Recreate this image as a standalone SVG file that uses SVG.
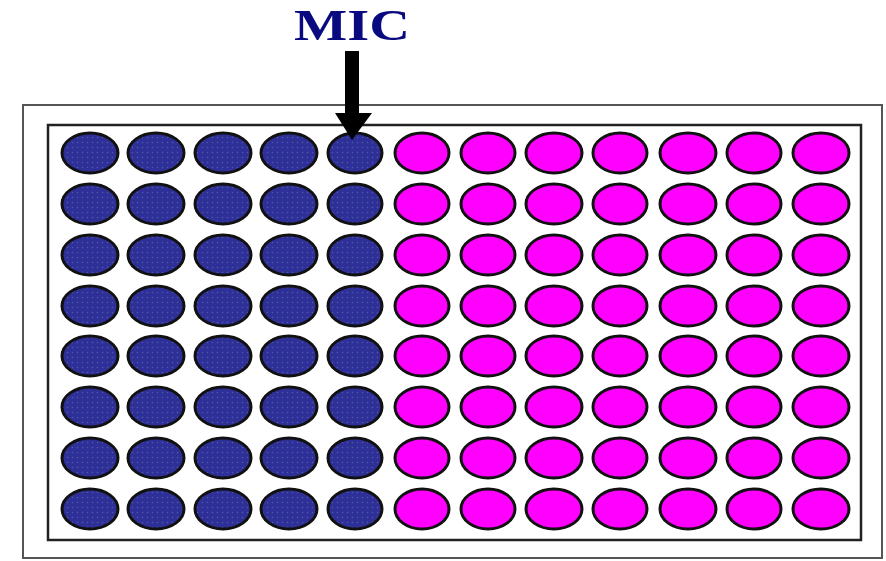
<svg xmlns="http://www.w3.org/2000/svg" width="886" height="561" viewBox="0 0 886 561">
<defs>
<style>
.b{fill:#2f2f98;stroke:#111;stroke-width:3}
.m{fill:#ff00ff;stroke:#111;stroke-width:3}
</style>
<pattern id="dots" width="5" height="5" patternUnits="userSpaceOnUse">
<rect width="5" height="5" fill="#2f2f98"/>
<circle cx="2.5" cy="2.5" r="0.8" fill="#4a5aa8"/>
</pattern>
</defs>
<rect width="886" height="561" fill="#fff"/>
<g id="plate">
<rect x="23" y="105" width="859" height="453" fill="#fff" stroke="#555" stroke-width="2"/>
<rect x="48" y="125" width="813" height="415" fill="#fff" stroke="#222" stroke-width="2.5"/>
</g>
<g id="wells">
<g id="blue" fill="url(#dots)" stroke="#111" stroke-width="3">
<ellipse cx="90" cy="153" rx="28" ry="20"/><ellipse cx="156" cy="153" rx="28" ry="20"/><ellipse cx="223" cy="153" rx="28" ry="20"/><ellipse cx="289" cy="153" rx="28" ry="20"/><ellipse cx="355" cy="153" rx="27" ry="20"/>
<ellipse cx="90" cy="204" rx="28" ry="20"/><ellipse cx="156" cy="204" rx="28" ry="20"/><ellipse cx="223" cy="204" rx="28" ry="20"/><ellipse cx="289" cy="204" rx="28" ry="20"/><ellipse cx="355" cy="204" rx="27" ry="20"/>
<ellipse cx="90" cy="255" rx="28" ry="20"/><ellipse cx="156" cy="255" rx="28" ry="20"/><ellipse cx="223" cy="255" rx="28" ry="20"/><ellipse cx="289" cy="255" rx="28" ry="20"/><ellipse cx="355" cy="255" rx="27" ry="20"/>
<ellipse cx="90" cy="306" rx="28" ry="20"/><ellipse cx="156" cy="306" rx="28" ry="20"/><ellipse cx="223" cy="306" rx="28" ry="20"/><ellipse cx="289" cy="306" rx="28" ry="20"/><ellipse cx="355" cy="306" rx="27" ry="20"/>
<ellipse cx="90" cy="356" rx="28" ry="20"/><ellipse cx="156" cy="356" rx="28" ry="20"/><ellipse cx="223" cy="356" rx="28" ry="20"/><ellipse cx="289" cy="356" rx="28" ry="20"/><ellipse cx="355" cy="356" rx="27" ry="20"/>
<ellipse cx="90" cy="407" rx="28" ry="20"/><ellipse cx="156" cy="407" rx="28" ry="20"/><ellipse cx="223" cy="407" rx="28" ry="20"/><ellipse cx="289" cy="407" rx="28" ry="20"/><ellipse cx="355" cy="407" rx="27" ry="20"/>
<ellipse cx="90" cy="458" rx="28" ry="20"/><ellipse cx="156" cy="458" rx="28" ry="20"/><ellipse cx="223" cy="458" rx="28" ry="20"/><ellipse cx="289" cy="458" rx="28" ry="20"/><ellipse cx="355" cy="458" rx="27" ry="20"/>
<ellipse cx="90" cy="509" rx="28" ry="20"/><ellipse cx="156" cy="509" rx="28" ry="20"/><ellipse cx="223" cy="509" rx="28" ry="20"/><ellipse cx="289" cy="509" rx="28" ry="20"/><ellipse cx="355" cy="509" rx="27" ry="20"/>
</g>
<g id="magenta" fill="#ff00ff" stroke="#111" stroke-width="3">
<ellipse cx="422" cy="153" rx="27" ry="20"/><ellipse cx="488" cy="153" rx="27" ry="20"/><ellipse cx="554" cy="153" rx="28" ry="20"/><ellipse cx="620" cy="153" rx="27" ry="20"/><ellipse cx="688" cy="153" rx="28" ry="20"/><ellipse cx="754" cy="153" rx="27" ry="20"/><ellipse cx="821" cy="153" rx="28" ry="20"/>
<ellipse cx="422" cy="204" rx="27" ry="20"/><ellipse cx="488" cy="204" rx="27" ry="20"/><ellipse cx="554" cy="204" rx="28" ry="20"/><ellipse cx="620" cy="204" rx="27" ry="20"/><ellipse cx="688" cy="204" rx="28" ry="20"/><ellipse cx="754" cy="204" rx="27" ry="20"/><ellipse cx="821" cy="204" rx="28" ry="20"/>
<ellipse cx="422" cy="255" rx="27" ry="20"/><ellipse cx="488" cy="255" rx="27" ry="20"/><ellipse cx="554" cy="255" rx="28" ry="20"/><ellipse cx="620" cy="255" rx="27" ry="20"/><ellipse cx="688" cy="255" rx="28" ry="20"/><ellipse cx="754" cy="255" rx="27" ry="20"/><ellipse cx="821" cy="255" rx="28" ry="20"/>
<ellipse cx="422" cy="306" rx="27" ry="20"/><ellipse cx="488" cy="306" rx="27" ry="20"/><ellipse cx="554" cy="306" rx="28" ry="20"/><ellipse cx="620" cy="306" rx="27" ry="20"/><ellipse cx="688" cy="306" rx="28" ry="20"/><ellipse cx="754" cy="306" rx="27" ry="20"/><ellipse cx="821" cy="306" rx="28" ry="20"/>
<ellipse cx="422" cy="356" rx="27" ry="20"/><ellipse cx="488" cy="356" rx="27" ry="20"/><ellipse cx="554" cy="356" rx="28" ry="20"/><ellipse cx="620" cy="356" rx="27" ry="20"/><ellipse cx="688" cy="356" rx="28" ry="20"/><ellipse cx="754" cy="356" rx="27" ry="20"/><ellipse cx="821" cy="356" rx="28" ry="20"/>
<ellipse cx="422" cy="407" rx="27" ry="20"/><ellipse cx="488" cy="407" rx="27" ry="20"/><ellipse cx="554" cy="407" rx="28" ry="20"/><ellipse cx="620" cy="407" rx="27" ry="20"/><ellipse cx="688" cy="407" rx="28" ry="20"/><ellipse cx="754" cy="407" rx="27" ry="20"/><ellipse cx="821" cy="407" rx="28" ry="20"/>
<ellipse cx="422" cy="458" rx="27" ry="20"/><ellipse cx="488" cy="458" rx="27" ry="20"/><ellipse cx="554" cy="458" rx="28" ry="20"/><ellipse cx="620" cy="458" rx="27" ry="20"/><ellipse cx="688" cy="458" rx="28" ry="20"/><ellipse cx="754" cy="458" rx="27" ry="20"/><ellipse cx="821" cy="458" rx="28" ry="20"/>
<ellipse cx="422" cy="509" rx="27" ry="20"/><ellipse cx="488" cy="509" rx="27" ry="20"/><ellipse cx="554" cy="509" rx="28" ry="20"/><ellipse cx="620" cy="509" rx="27" ry="20"/><ellipse cx="688" cy="509" rx="28" ry="20"/><ellipse cx="754" cy="509" rx="27" ry="20"/><ellipse cx="821" cy="509" rx="28" ry="20"/>
</g>
</g>
<g id="label">
<text x="294" y="40" font-family="'Liberation Serif', serif" font-weight="bold" font-size="44" fill="#0a0a80" textLength="116" lengthAdjust="spacingAndGlyphs">MIC</text>
</g>
<g id="connectors">
<polygon points="345,51 359,51 359,113 372,113 352,140 335,113 345,113" fill="#000"/>
</g>
</svg>
